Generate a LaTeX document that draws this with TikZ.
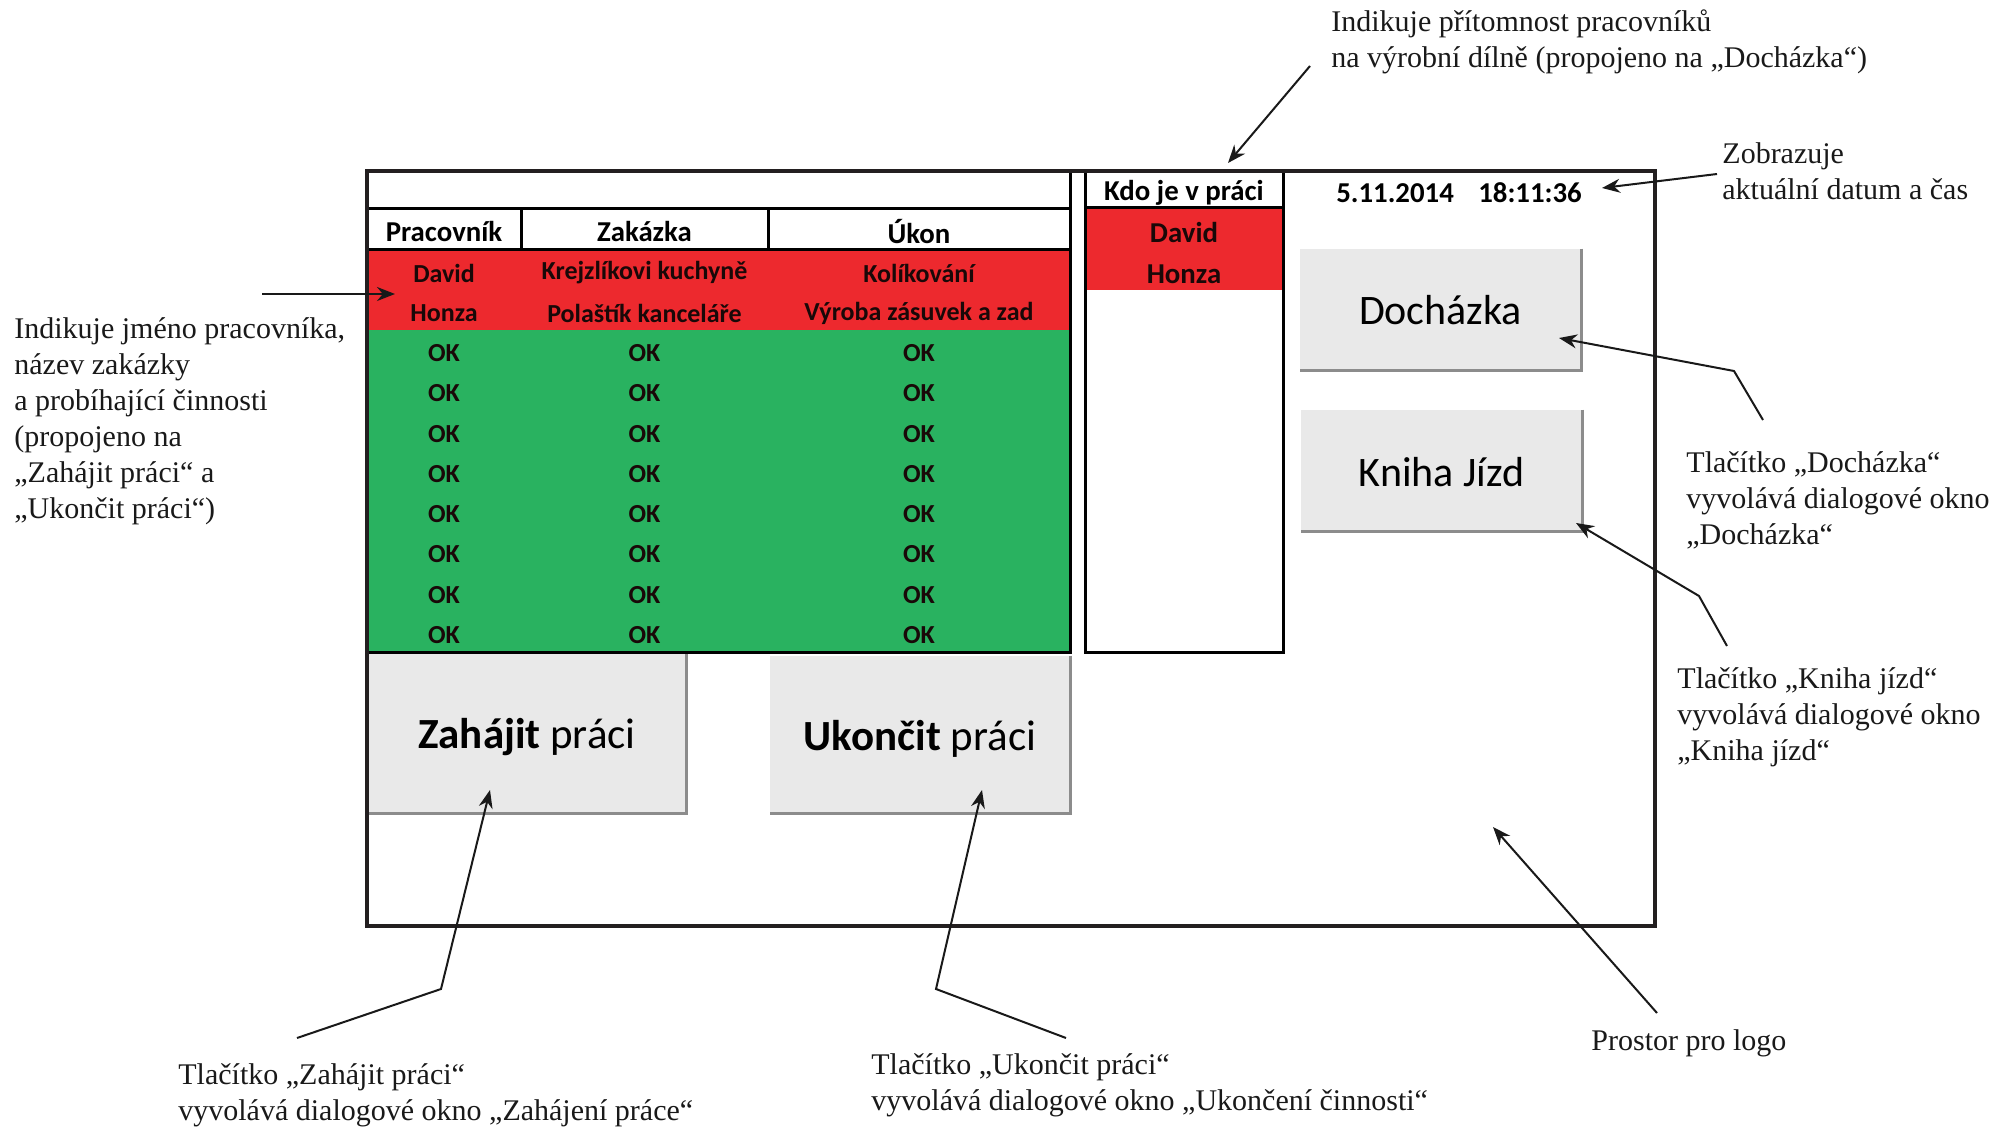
\documentclass[tikz,border=0pt]{standalone}
\usepackage{fontspec}
\setmainfont{Liberation Serif}
\newfontfamily\calib{Carlito}
\usetikzlibrary{arrows.meta}
\definecolor{cellred}{RGB}{237,41,46}
\definecolor{cellgreen}{RGB}{41,178,96}
\definecolor{btngray}{RGB}{233,233,233}
\definecolor{btnedge}{RGB}{140,140,140}
\definecolor{frameclr}{RGB}{35,31,32}
\definecolor{celltext}{RGB}{25,8,8}
\tikzset{
  frame/.style={draw=frameclr, line width=2pt},
  tbl/.style={draw=black, line width=1.5pt},
  celltxt/.style={font=\calib\bfseries\fontsize{13}{15}\selectfont, text=celltext, inner sep=0pt, yshift=-1.5pt},
  headtxt/.style={font=\calib\bfseries\fontsize{14.4}{16}\selectfont, text=black, inner sep=0pt, yshift=-1pt},
  button/.style={fill=btngray, inner sep=0pt},
  btntxt/.style={font=\calib\fontsize{21.5}{25}\selectfont, inner sep=0pt},
  btnshade/.style={draw=btnedge, line width=1.2pt},
  note/.style={font=\rmfamily\fontsize{15}{18}\selectfont, align=left, anchor=west, inner sep=0pt, text=black!90},
  ptr/.style={draw=black!90, line width=1pt, -{Stealth[length=9pt,width=7pt]}}
}
\begin{document}
\begin{tikzpicture}[x=0.5pt,y=-0.5pt]
\useasboundingbox (0,0) rectangle (1991,1128);

% buttons
\node[button, minimum width=159pt, minimum height=79.5pt] (zah) at (527,733.5) {};
\node[btntxt] (zaht) at (527,737) {\textbf{Zahájit} práci};
\draw[btnshade] (zah.north east) -- (zah.south east) -- (zah.south west);
\node[button, minimum width=150pt, minimum height=78.5pt] (uk) at (920,734.5) {};
\node[btntxt] (ukt) at (920,739) {\textbf{Ukončit} práci};
\draw[btnshade] (uk.north east) -- (uk.south east) -- (uk.south west);
\node[button, minimum width=140.5pt, minimum height=60.5pt] (doch) at (1440.5,309.5) {};
\node[btntxt, font=\calib\fontsize{21}{25}\selectfont] (docht) at (1440.5,310) {Docházka};
\draw[btnshade] (doch.north east) -- (doch.south east) -- (doch.south west);
\node[button, minimum width=140.5pt, minimum height=60.5pt] (kniha) at (1441.5,470.5) {};
\node[btntxt, font=\calib\fontsize{21}{25}\selectfont] (knihat) at (1441.5,472) {Kniha Jízd};
\draw[btnshade] (kniha.north east) -- (kniha.south east) -- (kniha.south west);

% left table
\fill[cellred] (367,250) rectangle (1070,330);
\fill[cellgreen] (367,330) rectangle (1070,652);
\draw[tbl] (367,171) rectangle (1070,652);
\draw[tbl] (367,209) -- (1070,209);
\draw[tbl] (367,250) -- (1070,250);
\draw[tbl] (521,209) -- (521,250);
\draw[tbl] (768,209) -- (768,250);

\node[headtxt] (hp) at (444,230) {Pracovník};
\node[headtxt] (hz) at (644.5,230) {Zakázka};
\node[headtxt] (hu) at (919,230) {Úkon};

\node[celltxt] (p1) at (444,270) {David};
\node[celltxt] (z1) at (644.5,270) {Krejzlíkovi kuchyně};
\node[celltxt] (u1) at (919,270) {Kolíkování};
\node[celltxt] (p2) at (444,310) {Honza};
\node[celltxt] (z2) at (644.5,310) {Polaštík kanceláře};
\node[celltxt] (u2) at (919,310) {Výroba zásuvek a zad};

\foreach \i in {0,...,7} {
  \pgfmathsetmacro{\yy}{330+40.25*(\i+0.5)}
  \node[celltxt] (okp\i) at (444,\yy) {OK};
  \node[celltxt] (okz\i) at (644.5,\yy) {OK};
  \node[celltxt] (oku\i) at (919,\yy) {OK};
}

% Kdo je v praci table
\fill[cellred] (1085,208) rectangle (1283,290);
\draw[tbl] (1085,171) rectangle (1283,652);
\draw[tbl] (1085,208) -- (1283,208);
\node[headtxt] (kdo) at (1184,191) {Kdo je v práci};
\node[celltxt, font=\calib\bfseries\fontsize{14.4}{16}\selectfont] (kd1) at (1184,230) {David};
\node[celltxt, font=\calib\bfseries\fontsize{14.4}{16}\selectfont] (kd2) at (1184,271) {Honza};

% date
\node[headtxt] (date) at (1459,191) {5.11.2014\hspace{0.85em}18:11:36};

% main frame
\draw[frame] (367,171) rectangle (1655,926);

% annotations
\node[note] (nleft) at (14,421) {Indikuje jméno pracovníka,\\název zakázky\\a probíhající činnosti\\(propojeno na\\„Zahájit práci“ a\\„Ukončit práci“)};
\node[note] (ntop) at (1331,42) {Indikuje přítomnost pracovníků\\na výrobní dílně (propojeno na „Docházka“)};
\node[note] (ndate) at (1722,171) {Zobrazuje\\aktuální datum a čas};
\node[note] (ndoch) at (1686,500) {Tlačítko „Docházka“\\vyvolává dialogové okno\\„Docházka“};
\node[note] (nkniha) at (1677,717) {Tlačítko „Kniha jízd“\\vyvolává dialogové okno\\„Kniha jízd“};
\node[note] (nlogo) at (1591,1043) {Prostor pro logo};
\node[note] (nzah) at (178,1095) {Tlačítko „Zahájit práci“\\vyvolává dialogové okno „Zahájení práce“};
\node[note] (nuk) at (871,1085) {Tlačítko „Ukončit práci“\\vyvolává dialogové okno „Ukončení činnosti“};

% connector points
\coordinate (a1s) at (262,294); \coordinate (a1t) at (395,294);
\coordinate (a2s) at (1310,66); \coordinate (a2t) at (1228,163);
\coordinate (a3s) at (1717,174); \coordinate (a3t) at (1602,188);
\coordinate (a4s) at (1763,420); \coordinate (a4b) at (1734,371); \coordinate (a4t) at (1559,338);
\coordinate (a5s) at (1727,646); \coordinate (a5b) at (1699,596); \coordinate (a5t) at (1576,523);
\coordinate (a6s) at (1657,1013); \coordinate (a6t) at (1493,827);
\coordinate (a7s) at (297,1038); \coordinate (a7b) at (441,989); \coordinate (a7t) at (490,790);
\coordinate (a8s) at (1066,1038); \coordinate (a8b) at (936,989); \coordinate (a8t) at (982,790);

\draw[ptr] (a1s) -- (a1t);
\draw[ptr] (a2s) -- (a2t);
\draw[ptr] (a3s) -- (a3t);
\draw[ptr] (a4s) -- (a4b) -- (a4t);
\draw[ptr] (a5s) -- (a5b) -- (a5t);
\draw[ptr] (a6s) -- (a6t);
\draw[ptr] (a7s) -- (a7b) -- (a7t);
\draw[ptr] (a8s) -- (a8b) -- (a8t);
\end{tikzpicture}
\end{document}
